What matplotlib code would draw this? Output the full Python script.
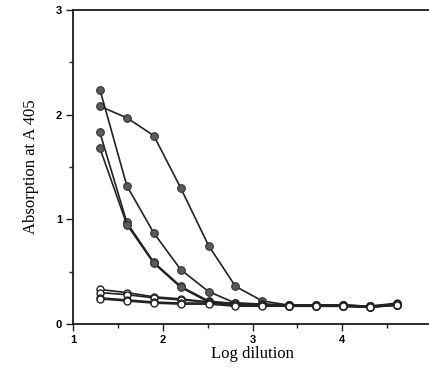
import matplotlib
matplotlib.use("Agg")
import matplotlib.pyplot as plt
from matplotlib.ticker import MultipleLocator

# log dilution (two-fold steps from 1:20)
log_dilution = [1.30, 1.60, 1.90, 2.20, 2.51, 2.81, 3.11, 3.41, 3.71, 4.01, 4.31, 4.61]

# filled symbols
filled_1 = [2.08, 1.97, 1.80, 1.30, 0.75, 0.36, 0.22, 0.18, 0.18, 0.18, 0.17, 0.19]
filled_2 = [2.24, 1.32, 0.87, 0.52, 0.31, 0.20, 0.19, 0.18, 0.18, 0.18, 0.17, 0.19]
filled_3 = [1.83, 0.97, 0.59, 0.36, 0.22, 0.19, 0.18, 0.18, 0.17, 0.17, 0.17, 0.18]
filled_4 = [1.68, 0.95, 0.58, 0.35, 0.21, 0.19, 0.18, 0.17, 0.17, 0.17, 0.16, 0.18]

# open symbols
open_1 = [0.33, 0.30, 0.26, 0.24, 0.21, 0.20, 0.19, 0.18, 0.18, 0.18, 0.17, 0.20]
open_2 = [0.30, 0.28, 0.25, 0.23, 0.21, 0.19, 0.18, 0.17, 0.18, 0.18, 0.16, 0.19]
open_3 = [0.25, 0.23, 0.21, 0.20, 0.20, 0.18, 0.18, 0.17, 0.17, 0.17, 0.16, 0.19]
open_4 = [0.24, 0.22, 0.20, 0.19, 0.19, 0.17, 0.17, 0.17, 0.17, 0.17, 0.16, 0.18]

fig = plt.figure(figsize=(4.29, 3.81), dpi=100)
ax = fig.add_axes([73 / 429, 57 / 381, 359 / 429, 314 / 381])

for ys in [filled_1, filled_2, filled_3, filled_4]:
    ax.plot(log_dilution, ys, color="#222222", lw=1.2, marker="o", ms=5.5,
            markerfacecolor="#5a5a5a", markeredgecolor="#333333", mew=0.8, clip_on=False)

for ys in [open_1, open_2, open_3, open_4]:
    ax.plot(log_dilution, ys, color="#222222", lw=1.2, marker="o", ms=5,
            markerfacecolor="white", markeredgecolor="#222222", mew=1.0, clip_on=False, zorder=3)

ax.set_xlim(1, 5)
ax.set_ylim(0, 3)
ax.xaxis.set_major_locator(MultipleLocator(1))
ax.xaxis.set_minor_locator(MultipleLocator(0.5))
ax.yaxis.set_major_locator(MultipleLocator(1))
ax.yaxis.set_minor_locator(MultipleLocator(0.5))

for side in ["left", "bottom", "top"]:
    ax.spines[side].set_linewidth(1.3)
    ax.spines[side].set_color("#1a1a1a")
ax.spines["right"].set_visible(False)

ax.tick_params(which="both", direction="out", width=1.0, color="#222222")
ax.tick_params(which="major", length=5, pad=3)
ax.tick_params(which="minor", length=3)

for lab in ax.get_xticklabels() + ax.get_yticklabels():
    lab.set_fontfamily("Liberation Sans")
    lab.set_fontweight("bold")
    lab.set_fontsize(8)

ax.set_xlabel("Log dilution", fontfamily="Liberation Serif", fontsize=12, labelpad=1)
ax.set_ylabel("Absorption at A 405", fontfamily="Liberation Serif", fontsize=12, labelpad=12)

fig.savefig("out.png", dpi=100)
